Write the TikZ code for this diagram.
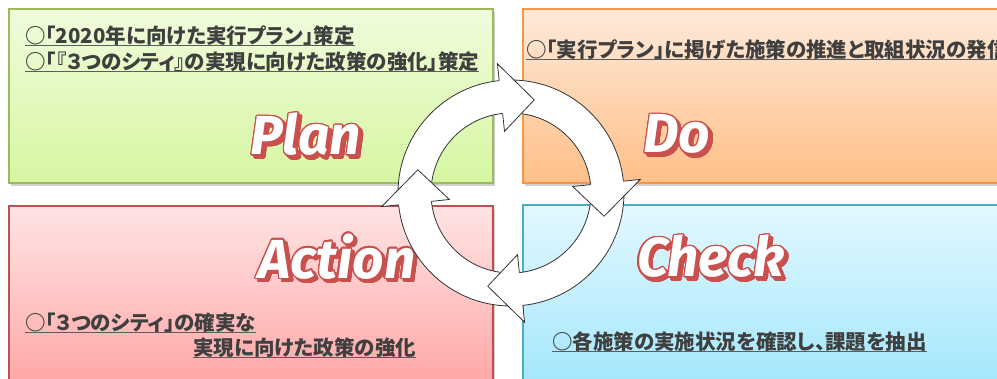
\documentclass[tikz,border=0pt]{standalone}
\usepackage{fontspec}
\usepackage{contour}
\usetikzlibrary{shadows}
\newfontfamily\jpfont{Noto Sans CJK JP}[RawFeature=+palt]
\newfontfamily\popfont{Fira Sans}
\definecolor{plantop}{HTML}{F0FCDC}
\definecolor{planbot}{HTML}{D6F6A2}
\definecolor{planline}{HTML}{9BBB59}
\definecolor{dotop}{HTML}{FEEADA}
\definecolor{dobot}{HTML}{FFBF88}
\definecolor{doline}{HTML}{F79646}
\definecolor{acttop}{HTML}{FFE4E4}
\definecolor{actbot}{HTML}{FFA4A4}
\definecolor{actline}{HTML}{C0504D}
\definecolor{chktop}{HTML}{E2F8FF}
\definecolor{chkbot}{HTML}{A2E6FC}
\definecolor{chkline}{HTML}{4BACC6}
\definecolor{txtgray}{HTML}{3F3F3F}
\definecolor{popred}{HTML}{C9504D}
\contourlength{1.4pt}
\contournumber{16}
\newcommand{\popword}[1]{{\popfont\bfseries\itshape #1}}
\begin{document}
\begin{tikzpicture}[x=1pt,y=-1pt,
  panel/.style={line width=1.3pt, drop shadow={shadow xshift=1.5pt, shadow yshift=-3pt, opacity=0.3, fill=black!60}},
  jtext/.style={font=\jpfont\bfseries\fontsize{20.5}{22}\selectfont, text=txtgray, inner sep=0pt, anchor=base west},
  ul/.style={draw=txtgray!85, line width=0.9pt},
  ringline/.style={draw=black!80, line width=0.8pt, line join=miter},
  poplab/.style={font=\fontsize{55}{55}\selectfont, inner sep=0pt}
]
\useasboundingbox (0,0) rectangle (997,378);
\clip (0,0) rectangle (997,378);
\fill[white] (0,0) rectangle (997,378);

% panels
\path[panel, draw=planline, top color=plantop, bottom color=planbot] (9,9) rectangle (493,183);
\path[panel, draw=doline, top color=dotop, bottom color=dobot] (523,9) rectangle (1012,183);
\path[panel, draw=actline, top color=acttop, bottom color=actbot] (9,206) rectangle (493,392);
\path[panel, draw=chkline, top color=chktop, bottom color=chkbot] (523,205) rectangle (1012,392);

% texts
\node[jtext] (p1) at (25,43) {○「2020年に向けた実行プラン」策定};
\node[jtext] (p2) at (25,69) {○「『３つのシティ』の実現に向けた政策の強化」策定};
\node[jtext] (d1) at (526,57) {○「実行プラン」に掲げた施策の推進と取組状況の発信};
\node[jtext] (a1) at (25,330) {○「３つのシティ」の確実な};
\node[jtext] (a2) at (193,355) {実現に向けた政策の強化};
\node[jtext] (c1) at (552,349) {○各施策の実施状況を確認し、課題を抽出};
\foreach \n in {p1,p2,d1,a1,a2,c1}{
  \draw[ul] ([yshift=-2.5pt]\n.base west) -- ([yshift=-2.5pt]\n.base east);
}

% big labels
\node[poplab, text=popred] at (309,138) {\contour{popred}{\popword{Plan}}};
\node[poplab, text=white] (plan) at (306,135) {\contour{popred}{\popword{Plan}}};
\node[poplab, text=popred] at (680,138) {\contour{popred}{\popword{Do}}};
\node[poplab, text=white] (do) at (677,135) {\contour{popred}{\popword{Do}}};
\node[poplab, text=popred] at (340,260) {\contour{popred}{\popword{Action}}};
\node[poplab, text=white] (action) at (337,257) {\contour{popred}{\popword{Action}}};
\node[poplab, text=popred] at (714,260) {\contour{popred}{\popword{Check}}};
\node[poplab, text=white] (check) at (711,257) {\contour{popred}{\popword{Check}}};

% cycle ring
\begin{scope}[shift={(511,193)}]
  \fill[white, even odd rule] (0,0) circle[radius=113pt] (0,0) circle[radius=80pt];
  \draw[ringline] (0,0) circle[radius=113pt] (0,0) circle[radius=80pt];
  \foreach \b in {96,6,-84,186}{
    \pgfmathsetmacro\t{\b-20}
    \fill[white] (\b:130pt) -- (\t:96pt) -- (\b:62pt) -- cycle;
    \draw[ringline] (\b:113pt) -- (\b:130pt) -- (\t:96pt) -- (\b:62pt) -- (\b:80pt);
  }
\end{scope}
\end{tikzpicture}
\end{document}
